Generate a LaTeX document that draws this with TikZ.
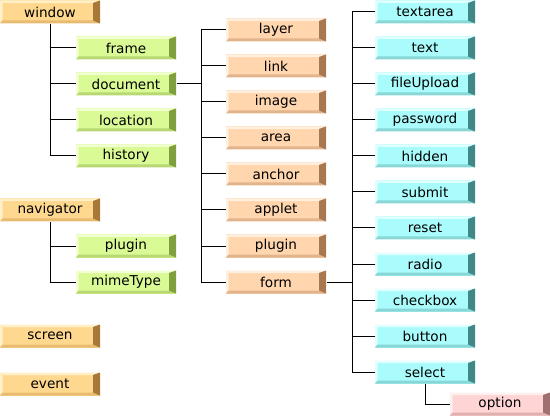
\documentclass[tikz,border=0pt]{standalone}
\usepackage{fontspec}
\setmainfont{DejaVu Sans}

\definecolor{winbase}{HTML}{FFD890}
\definecolor{winlight}{HTML}{FFF0C8}
\definecolor{winmid}{HTML}{E8BC70}
\definecolor{windark}{HTML}{A87838}
\definecolor{subbase}{HTML}{DAFA96}
\definecolor{sublight}{HTML}{F2FFD2}
\definecolor{submid}{HTML}{B8D874}
\definecolor{subdark}{HTML}{80A040}
\definecolor{docbase}{HTML}{FFD6AE}
\definecolor{doclight}{HTML}{FFF0E0}
\definecolor{docmid}{HTML}{E2B48C}
\definecolor{docdark}{HTML}{A87850}
\definecolor{formbase}{HTML}{AAFCFC}
\definecolor{formlight}{HTML}{E2FFFF}
\definecolor{formmid}{HTML}{88D6D6}
\definecolor{formdark}{HTML}{408888}
\definecolor{optbase}{HTML}{FFD4D4}
\definecolor{optlight}{HTML}{FFF0F0}
\definecolor{optmid}{HTML}{E0B0B0}
\definecolor{optdark}{HTML}{A07070}

\tikzset{
  btn/.style n args={4}{fill=#1, minimum width=100pt, minimum height=23pt, inner sep=0pt,
    path picture={
      \fill[#2] (path picture bounding box.north west) -- (path picture bounding box.north east)
        -- ([shift={(-7pt,-2.5pt)}]path picture bounding box.north east)
        -- ([shift={(2.5pt,-2.5pt)}]path picture bounding box.north west) -- cycle;
      \fill[#2] (path picture bounding box.north west) -- ([shift={(2.5pt,-2.5pt)}]path picture bounding box.north west)
        -- ([shift={(2.5pt,3pt)}]path picture bounding box.south west)
        -- (path picture bounding box.south west) -- cycle;
      \fill[#3] (path picture bounding box.south west) -- ([shift={(2.5pt,3pt)}]path picture bounding box.south west)
        -- ([shift={(-7pt,3pt)}]path picture bounding box.south east)
        -- (path picture bounding box.south east) -- cycle;
      \fill[#4] (path picture bounding box.north east) -- (path picture bounding box.south east)
        -- ([shift={(-7pt,3pt)}]path picture bounding box.south east)
        -- ([shift={(-7pt,-2.5pt)}]path picture bounding box.north east) -- cycle;
    }},
  winbtn/.style={btn={winbase}{winlight}{winmid}{windark}},
  subbtn/.style={btn={subbase}{sublight}{submid}{subdark}},
  docbtn/.style={btn={docbase}{doclight}{docmid}{docdark}},
  formbtn/.style={btn={formbase}{formlight}{formmid}{formdark}},
  optbtn/.style={btn={optbase}{optlight}{optmid}{optdark}},
}

\begin{document}
\begin{tikzpicture}[x=1pt, y=-1pt, every node/.style={font=\fontsize{13.6}{15}\selectfont}, line width=1pt]
  \useasboundingbox (0,0) rectangle (550,420);

  \node[winbtn] (window) at (50,12) {window};
  \node[subbtn] (frame) at (126,48) {frame};
  \node[subbtn] (document) at (126,84) {document};
  \node[subbtn] (location) at (126,120) {location};
  \node[subbtn] (history) at (126,156) {history};

  \node[winbtn] (navigator) at (50,210) {navigator};
  \node[subbtn] (navplugin) at (126,246) {plugin};
  \node[subbtn] (mimetype) at (126,282) {mimeType};

  \node[winbtn] (screen) at (50,336) {screen};
  \node[winbtn] (event) at (50,384) {event};

  \node[docbtn] (layer) at (276,30) {layer};
  \node[docbtn] (link) at (276,66) {link};
  \node[docbtn] (image) at (276,102) {image};
  \node[docbtn] (area) at (276,138) {area};
  \node[docbtn] (anchor) at (276,174) {anchor};
  \node[docbtn] (applet) at (276,210) {applet};
  \node[docbtn] (docplugin) at (276,246) {plugin};
  \node[docbtn] (form) at (276,282) {form};

  \node[formbtn] (textarea) at (425,12) {textarea};
  \node[formbtn] (text) at (425,48) {text};
  \node[formbtn] (fileupload) at (425,84) {fileUpload};
  \node[formbtn] (password) at (425,120) {password};
  \node[formbtn] (hidden) at (425,156) {hidden};
  \node[formbtn] (submit) at (425,192) {submit};
  \node[formbtn] (reset) at (425,228) {reset};
  \node[formbtn] (radio) at (425,264) {radio};
  \node[formbtn] (checkbox) at (425,300) {checkbox};
  \node[formbtn] (button) at (425,336) {button};
  \node[formbtn] (select) at (425,372) {select};

  \node[optbtn] (option) at (500,404) {option};

  \coordinate (docbus) at (201,84);
  \coordinate (formbus) at (352,282);

  \draw (window.south) |- (frame.west);
  \draw (window.south) |- (document.west);
  \draw (window.south) |- (location.west);
  \draw (window.south) |- (history.west);

  \draw (navigator.south) |- (navplugin.west);
  \draw (navigator.south) |- (mimetype.west);

  \draw (document.east) -- (docbus);
  \draw (docbus) |- (layer.west);
  \draw (docbus) |- (link.west);
  \draw (docbus) |- (image.west);
  \draw (docbus) |- (area.west);
  \draw (docbus) |- (anchor.west);
  \draw (docbus) |- (applet.west);
  \draw (docbus) |- (docplugin.west);
  \draw (docbus) |- (form.west);

  \draw (form.east) -- (formbus);
  \draw (formbus) |- (textarea.west);
  \draw (formbus) |- (text.west);
  \draw (formbus) |- (fileupload.west);
  \draw (formbus) |- (password.west);
  \draw (formbus) |- (hidden.west);
  \draw (formbus) |- (submit.west);
  \draw (formbus) |- (reset.west);
  \draw (formbus) |- (radio.west);
  \draw (formbus) |- (checkbox.west);
  \draw (formbus) |- (button.west);
  \draw (formbus) |- (select.west);

  \draw (select.south) |- (option.west);
\end{tikzpicture}
\end{document}
